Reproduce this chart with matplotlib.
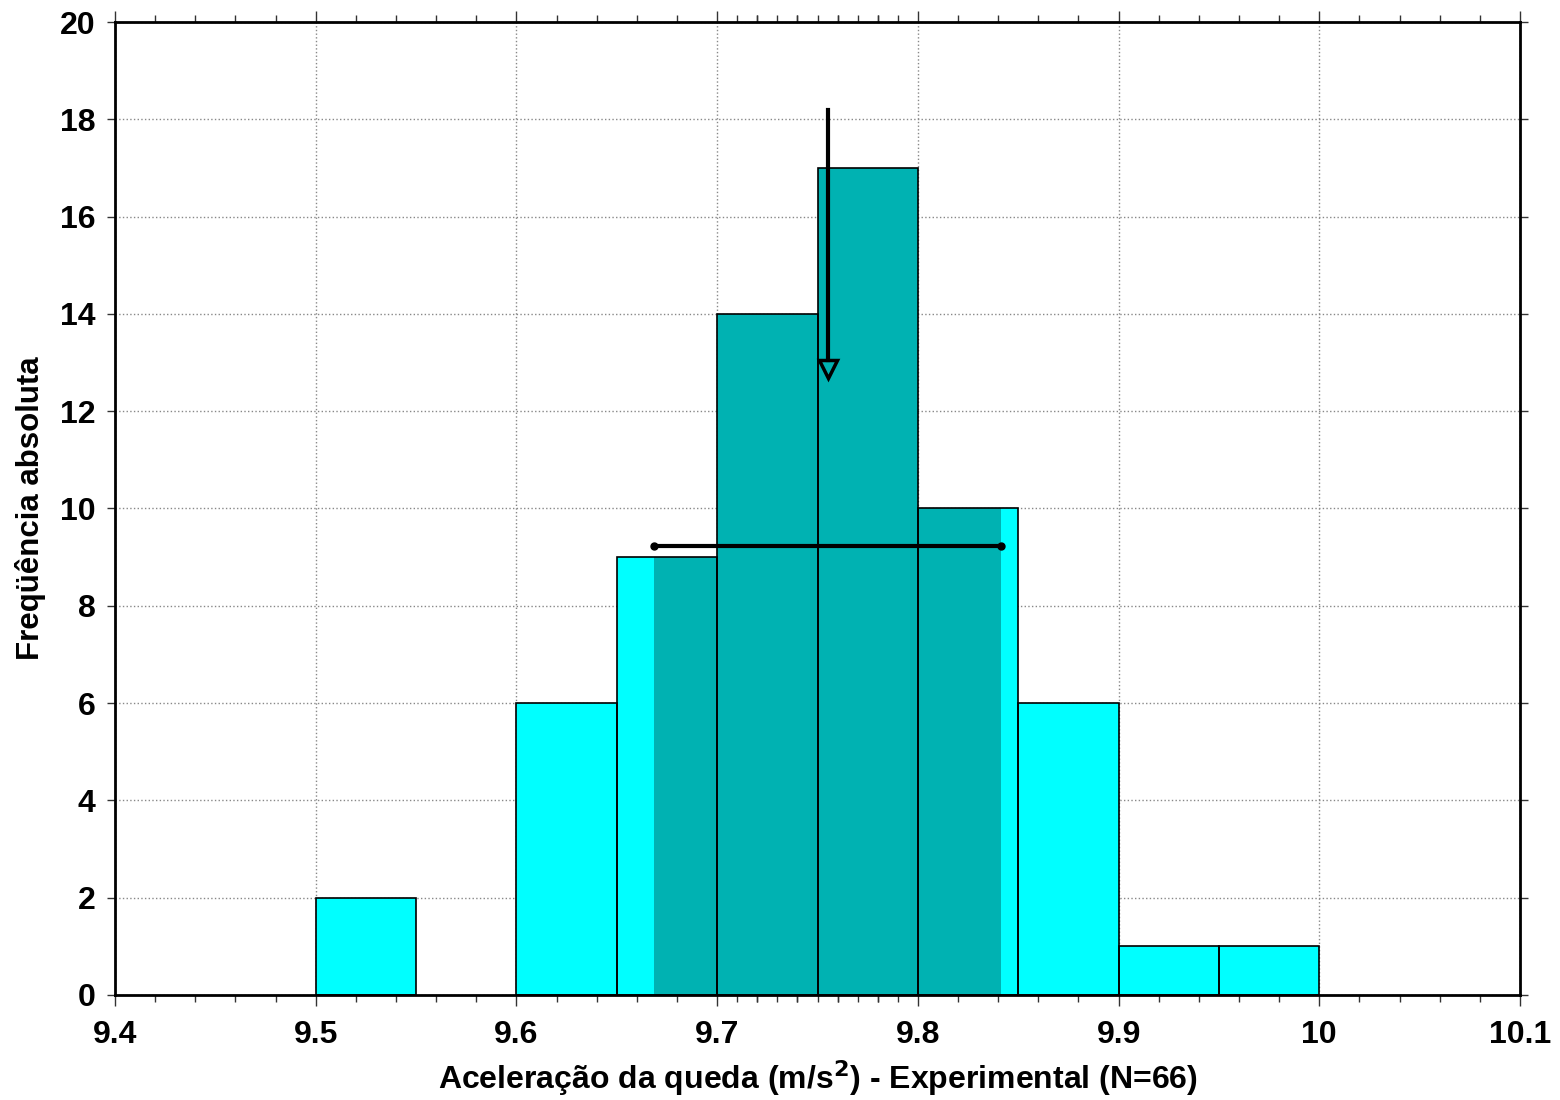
import numpy as np
import matplotlib
matplotlib.use("Agg")
import matplotlib.pyplot as plt
from matplotlib.ticker import FixedLocator

# dados do histograma (largura de classe 0.05)
bin_left = [9.40, 9.45, 9.50, 9.55, 9.60, 9.65, 9.70, 9.75, 9.80, 9.85, 9.90, 9.95, 10.00, 10.05]
counts = [0, 0, 2, 0, 6, 9, 14, 17, 10, 6, 1, 1, 0, 0]
bin_width = 0.05

# media e desvio padrao
g_mean = 9.755
g_std = 0.0865
arrow_top = 18.2
arrow_tip = 12.7
std_level = 9.23

x_ticks = [9.4, 9.5, 9.6, 9.7, 9.8, 9.9, 10.0, 10.1]
x_labels = ["9.4", "9.5", "9.6", "9.7", "9.8", "9.9", "10", "10.1"]
y_ticks = [0, 2, 4, 6, 8, 10, 12, 14, 16, 18, 20]

plt.rcParams['font.family'] = ['Liberation Sans', 'DejaVu Sans']

fig = plt.figure(figsize=(15.6, 11), dpi=100)
ax = fig.add_axes([115 / 1560, 105 / 1100, 1405 / 1560, 973 / 1100])

cyan = '#00FFFF'
teal = '#00B2B2'

# barras ciano
ax.bar(bin_left, counts, width=bin_width, align='edge', color=cyan, edgecolor='none', zorder=2)

# regiao media +- desvio em verde-azulado
lo, hi = g_mean - g_std, g_mean + g_std
for left, c in zip(bin_left, counts):
    a = max(left, lo)
    b = min(left + bin_width, hi)
    if b > a and c > 0:
        ax.bar(a, c, width=b - a, align='edge', color=teal, edgecolor='none', zorder=3)

# contornos das barras
for left, c in zip(bin_left, counts):
    if c > 0:
        ax.bar(left, c, width=bin_width, align='edge', fill=False, edgecolor='black', linewidth=1.2, zorder=4)

# seta da media
ax.plot([g_mean, g_mean], [arrow_top, arrow_tip + 0.35], color='black', lw=3, zorder=6)
ax.plot([g_mean], [arrow_tip + 0.17], marker='v', markersize=13, mfc='none', mec='black', mew=2.5, zorder=6)

# barra do desvio padrao
ax.plot([lo, hi], [std_level, std_level], color='black', lw=3, marker='o', markersize=5, zorder=6)

ax.set_xlim(9.4, 10.1)
ax.set_ylim(0, 20)
ax.set_xticks(x_ticks)
ax.set_xticklabels(x_labels)
ax.set_yticks(y_ticks)

minor = list(np.round(np.arange(9.42, 10.1, 0.02), 3)) + list(np.round(np.arange(9.71, 9.8, 0.01), 3))
ax.xaxis.set_minor_locator(FixedLocator(minor))

ax.grid(True, which='major', color='#888888', linestyle=':', linewidth=1, zorder=1)
ax.set_axisbelow(True)

for s in ax.spines.values():
    s.set_linewidth(2)
    s.set_color('black')
    s.set_zorder(7)

ax.tick_params(axis='x', which='major', direction='out', length=8, width=1, top=True, bottom=True,
               labelsize=23, pad=10, colors='#333333', labelcolor='black')
ax.tick_params(axis='x', which='minor', direction='out', length=5, width=1, top=True, bottom=True, colors='#333333')
ax.tick_params(axis='y', which='major', direction='out', length=6, width=1, left=True, right=True,
               labelsize=23, pad=8, colors='#333333', labelcolor='black')
for lab in ax.get_xticklabels() + ax.get_yticklabels():
    lab.set_fontweight('bold')

ax.set_xlabel("Aceleração da queda (m/s$^{\\mathbf{2}}$) - Experimental (N=66)",
              fontsize=23, fontweight='bold', labelpad=6)
ax.set_ylabel("Freqüência absoluta", fontsize=22.5, fontweight='bold', labelpad=10)

fig.savefig("out.png", dpi=100)
